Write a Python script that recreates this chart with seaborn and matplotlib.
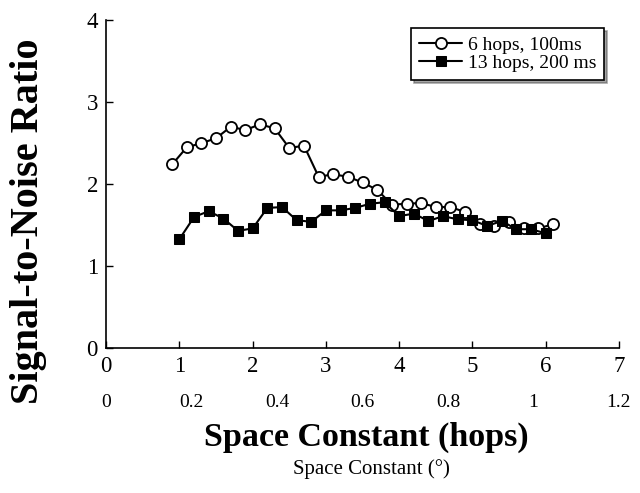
import matplotlib
matplotlib.use('Agg')
import matplotlib.pyplot as plt
import seaborn as sns
import pandas as pd

# 6 hops, 100ms (open circles)
x6 = [0.9, 1.1, 1.3, 1.5, 1.7, 1.9, 2.1, 2.3, 2.5, 2.7, 2.9, 3.1, 3.3, 3.5,
      3.7, 3.9, 4.1, 4.3, 4.5, 4.7, 4.9, 5.1, 5.3, 5.5, 5.7, 5.9, 6.1]
snr6 = [2.24, 2.45, 2.50, 2.56, 2.70, 2.66, 2.73, 2.68, 2.44, 2.47, 2.09, 2.12, 2.09, 2.02,
        1.93, 1.75, 1.76, 1.77, 1.72, 1.72, 1.66, 1.51, 1.49, 1.54, 1.46, 1.46, 1.51]

# 13 hops, 200 ms (filled squares)
x13 = [1.0, 1.2, 1.4, 1.6, 1.8, 2.0, 2.2, 2.4, 2.6, 2.8, 3.0, 3.2, 3.4,
       3.6, 3.8, 4.0, 4.2, 4.4, 4.6, 4.8, 5.0, 5.2, 5.4, 5.6, 5.8, 6.0]
snr13 = [1.33, 1.60, 1.67, 1.58, 1.43, 1.46, 1.71, 1.72, 1.56, 1.54, 1.68, 1.68, 1.71,
         1.76, 1.78, 1.61, 1.64, 1.55, 1.61, 1.57, 1.56, 1.49, 1.55, 1.45, 1.45, 1.40]

hop_ticks = [0, 1, 2, 3, 4, 5, 6, 7]
deg_ticks = [0, 0.2, 0.4, 0.6, 0.8, 1, 1.2]
deg_labels = ['0', '0.2', '0.4', '0.6', '0.8', '1', '1.2']

df6 = pd.DataFrame({'x': x6, 'snr': snr6})
df13 = pd.DataFrame({'x': x13, 'snr': snr13})

sns.set_style('ticks')
plt.rcParams['font.family'] = ['Liberation Serif', 'DejaVu Serif']
plt.rcParams['text.color'] = 'black'
plt.rcParams['axes.labelcolor'] = 'black'
plt.rcParams['xtick.color'] = 'black'
plt.rcParams['ytick.color'] = 'black'

fig = plt.figure(figsize=(6.4, 4.93), dpi=100)
ax = fig.add_axes([0.166, 0.294, 0.801, 0.665])

sns.lineplot(data=df6, x='x', y='snr', ax=ax, color='black', lw=1.5,
             marker='o', markersize=8, markerfacecolor='white',
             markeredgecolor='black', markeredgewidth=1.3, label='6 hops, 100ms')
sns.lineplot(data=df13, x='x', y='snr', ax=ax, color='black', lw=1.5,
             marker='s', markersize=7, markerfacecolor='black',
             markeredgecolor='black', label='13 hops, 200 ms')

ax.set_xlim(0, 7)
ax.set_ylim(0, 4)
ax.set_xticks(hop_ticks)
ax.set_yticks([0, 1, 2, 3, 4])
ax.tick_params(direction='in', length=5, width=1, labelsize=16.5, colors='black')
ax.tick_params(axis='x', pad=6)
ax.tick_params(axis='y', pad=6)
sns.despine(ax=ax)
for s in ['left', 'bottom']:
    ax.spines[s].set_linewidth(1.2)
    ax.spines[s].set_color('black')

ax.set_ylabel('')
ax.set_xlabel('')

# second scale in degrees
sec = ax.secondary_xaxis(-0.14, functions=(lambda v: v * 1.2 / 7, lambda v: v * 7 / 1.2))
sec.set_xticks(deg_ticks)
sec.set_xticklabels(deg_labels)
sec.tick_params(length=0, labelsize=14, pad=0, colors='black')
sec.spines['bottom'].set_visible(False)

fig.text(0.045, 0.552, 'Signal-to-Noise Ratio', fontsize=29, fontweight='bold',
         rotation=90, ha='center', va='center')
fig.text(0.572, 0.113, 'Space Constant (hops)', fontsize=24.5, fontweight='bold',
         ha='center', va='center')
fig.text(0.581, 0.048, 'Space Constant (\u00b0)', fontsize=15, ha='center', va='center')

leg = ax.legend(loc='upper right', bbox_to_anchor=(0.99, 1.005), fontsize=14,
                frameon=True, fancybox=False, shadow=True, handlelength=2.2,
                handletextpad=0.3, borderpad=0.4, labelspacing=0.05)
leg.get_frame().set_edgecolor('black')
leg.get_frame().set_linewidth(1.2)

fig.savefig('out.png', dpi=100)
